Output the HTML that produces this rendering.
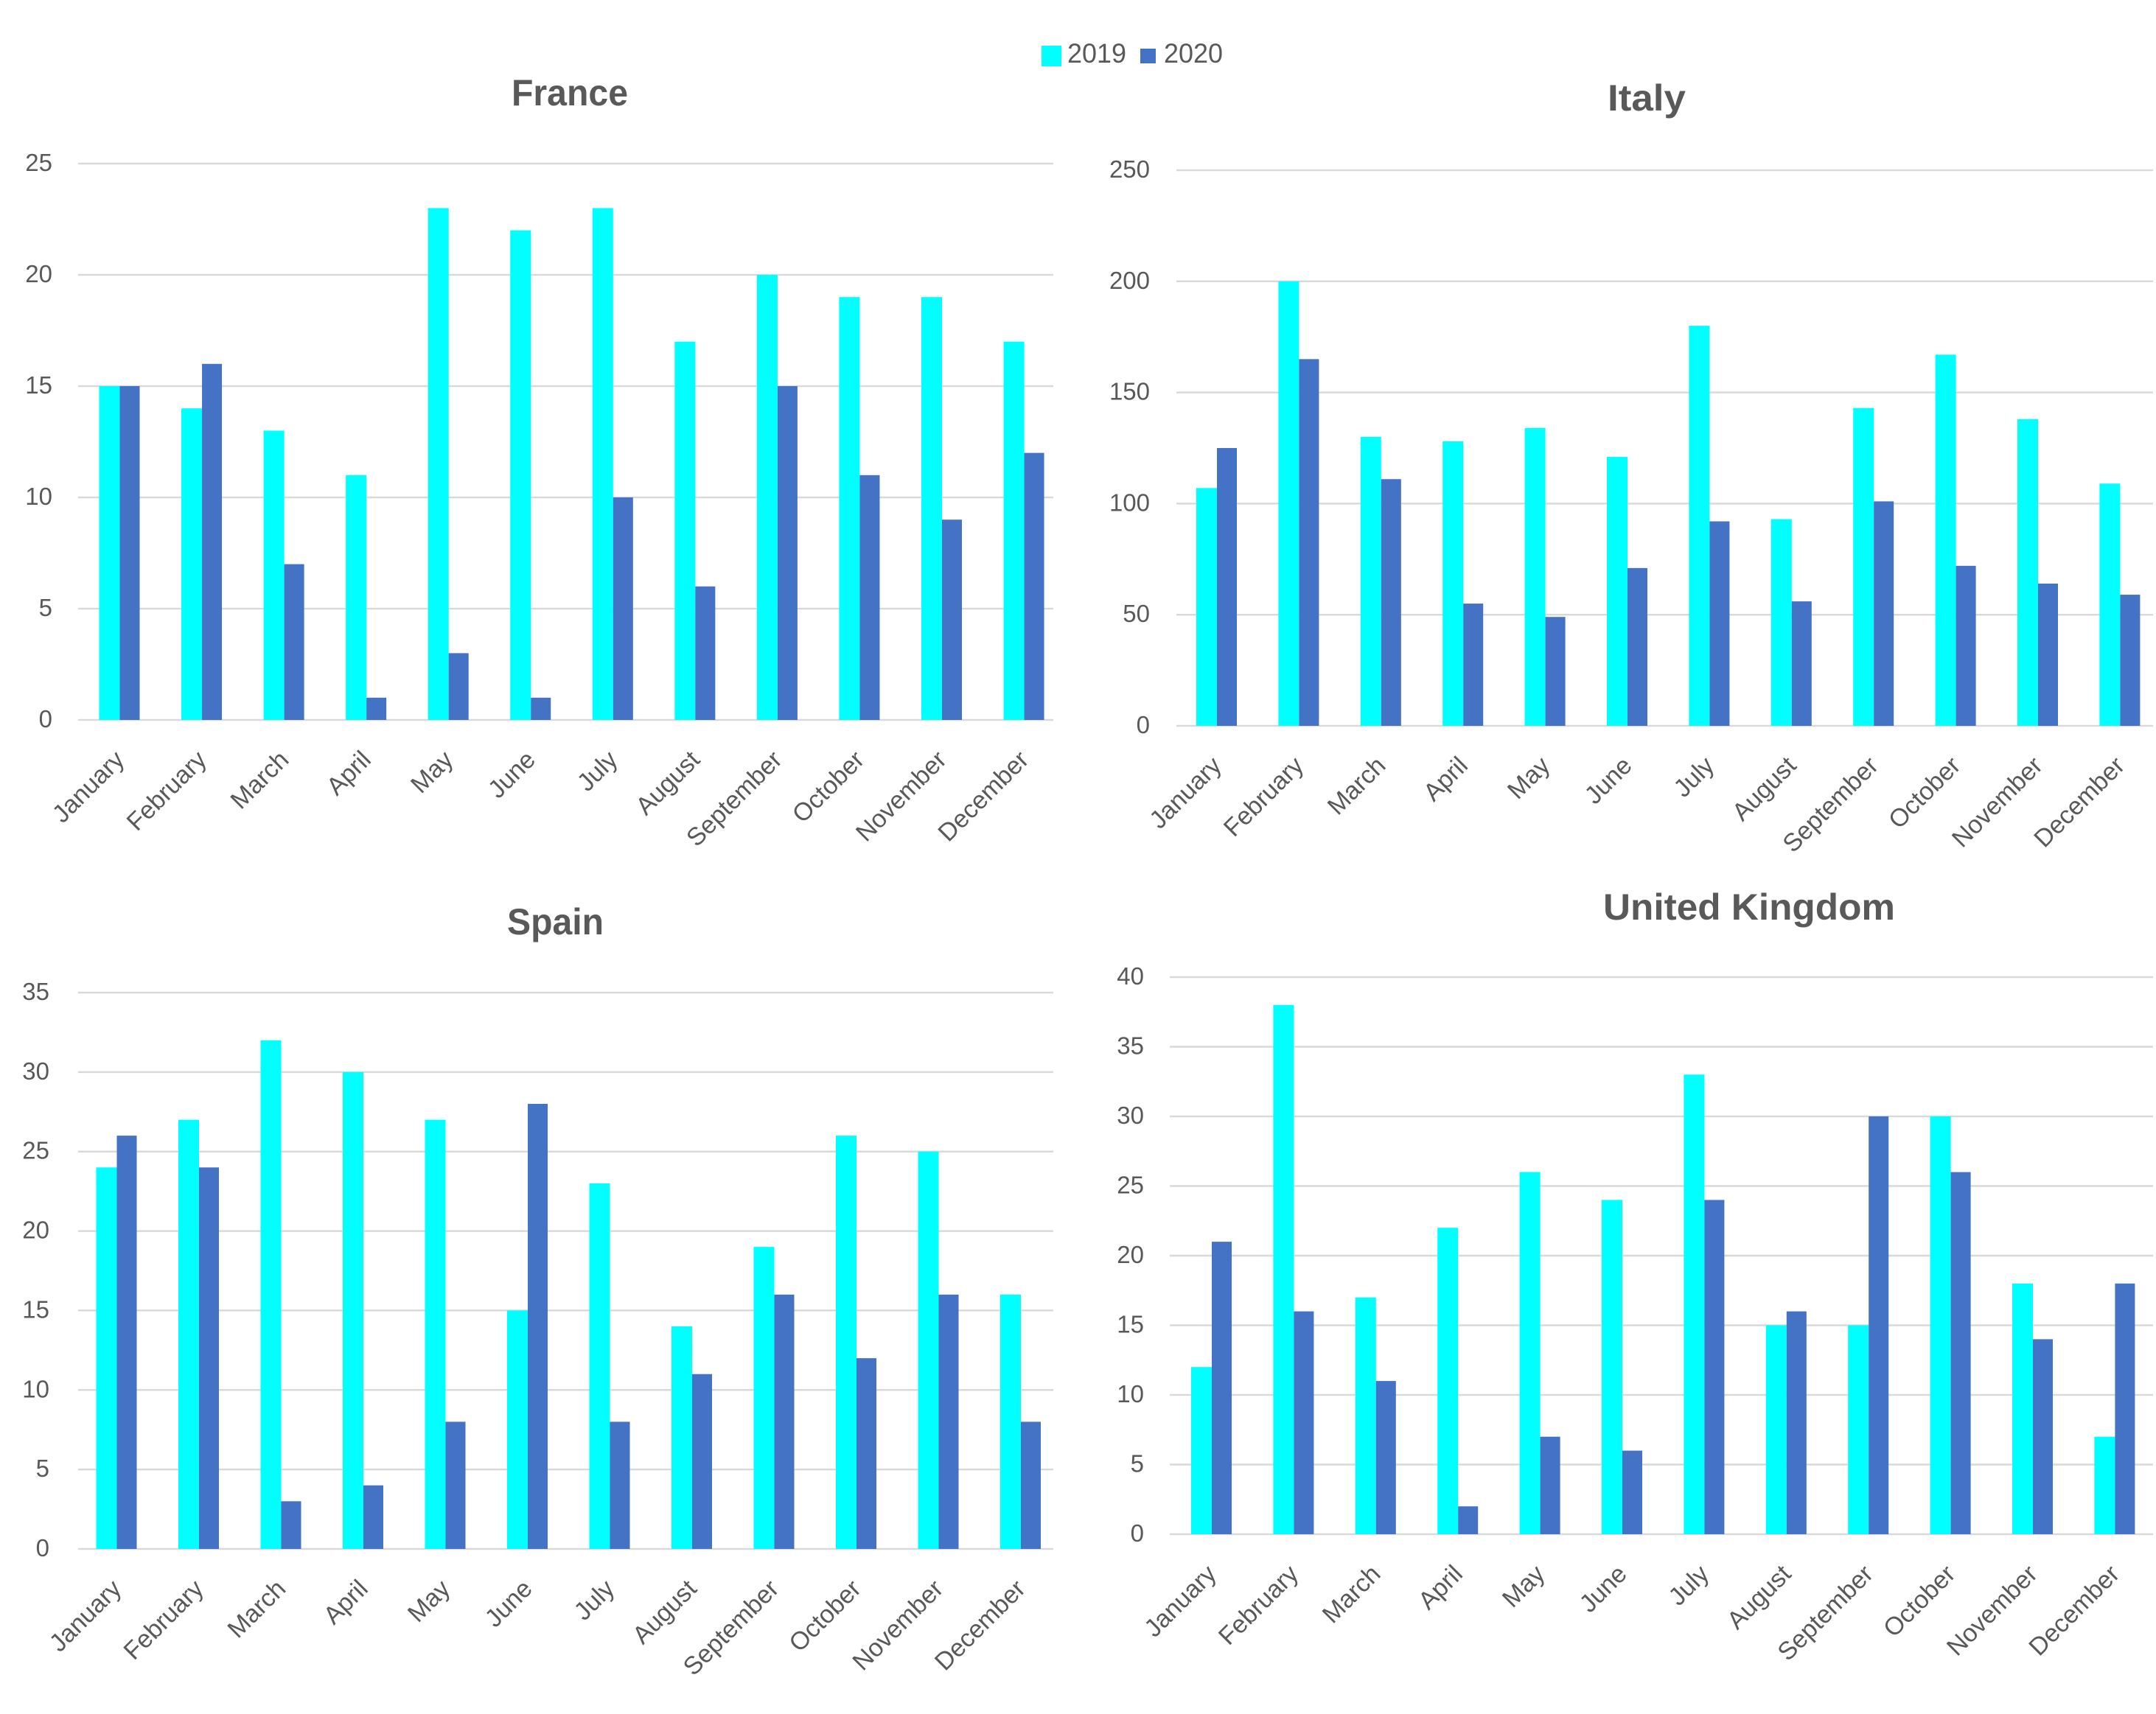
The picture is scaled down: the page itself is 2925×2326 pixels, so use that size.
<!DOCTYPE html>
<html lang="en">
<head>
<meta charset="utf-8">
<title>Monthly values by country, 2019 and 2020</title>
<style>
html,body{margin:0;padding:0;background:#fff;}
svg{display:block;}
text{font-family:"Liberation Sans",sans-serif;fill:#595959;}
</style>
</head>
<body>
<svg id="chart" xmlns="http://www.w3.org/2000/svg" width="2925" height="2326" viewBox="0 0 2925 2326">
  <rect x="0" y="0" width="2925" height="2326" fill="#ffffff"/>
  <g>
    <rect x="1413" y="62" width="27" height="28" fill="#00ffff"/>
    <text x="1448" y="85" font-size="37" textLength="80" lengthAdjust="spacingAndGlyphs">2019</text>
    <rect x="1547" y="66" width="21" height="20" fill="#4472c4"/>
    <text x="1579" y="85" font-size="37" textLength="80" lengthAdjust="spacingAndGlyphs">2020</text>
  </g>
</svg>
<script>
const months = ['January','February','March','April','May','June','July','August','September','October','November','December'];

const franceTicks = [0,5,10,15,20,25];
const france2019 = [15,14,13,11,23,22,23,17,20,19,19,17];
const france2020 = [15,16,7,1,3,1,10,6,15,11,9,12];

const italyTicks = [0,50,100,150,200,250];
const italy2019 = [107,200,130,128,134,121,180,93,143,167,138,109];
const italy2020 = [125,165,111,55,49,71,92,56,101,72,64,59];

const spainTicks = [0,5,10,15,20,25,30,35];
const spain2019 = [24,27,32,30,27,15,23,14,19,26,25,16];
const spain2020 = [26,24,3,4,8,28,8,11,16,12,16,8];

const ukTicks = [0,5,10,15,20,25,30,35,40];
const uk2019 = [12,38,17,22,26,24,33,15,15,30,18,7];
const uk2020 = [21,16,11,2,7,6,24,16,30,26,14,18];

const SVG_NS = 'http://www.w3.org/2000/svg';
const root = document.getElementById('chart');

function make(tag, parent) {
  const el = document.createElementNS(SVG_NS, tag);
  parent.appendChild(el);
  return el;
}

function drawPanel(p) {
  const maxV = p.ticks[p.ticks.length - 1];
  const yOf = v => p.bottom - (v / maxV) * (p.bottom - p.top);
  const xOf = i => p.firstCenter + i * p.pitch;
  const CYAN_W = 28;
  const BLUE_W = 27;

  const g = make('g', root);
  
  

  const title = make('text', g);
  
  
  title.setAttribute('x', p.titleX);
  title.setAttribute('y', p.titleY);
  title.setAttribute('font-size', 50);
  title.setAttribute('font-weight', 'bold');
  title.setAttribute('textLength', p.titleW);
  title.setAttribute('lengthAdjust', 'spacingAndGlyphs');
  title.textContent = p.title;

  p.ticks.forEach(t => {
    const line = make('line', g);
    
    
    line.setAttribute('x1', p.left);
    line.setAttribute('x2', p.right);
    line.setAttribute('y1', yOf(t));
    line.setAttribute('y2', yOf(t));
    line.setAttribute('stroke', '#d9d9d9');
    line.setAttribute('stroke-width', 2.5);

    const label = make('text', g);
    
    
    label.setAttribute('x', p.labelX);
    label.setAttribute('y', yOf(t) + 10);
    label.setAttribute('font-size', 33);
    label.setAttribute('text-anchor', 'end');
    label.textContent = t;
  });

  months.forEach((m, i) => {
    const cx = xOf(i);

    const a = make('rect', g);
    
    
    a.setAttribute('x', cx - CYAN_W);
    a.setAttribute('y', yOf(p.s2019[i]));
    a.setAttribute('width', CYAN_W);
    a.setAttribute('height', p.bottom - yOf(p.s2019[i]));
    a.setAttribute('fill', '#00ffff');

    const b = make('rect', g);
    
    
    b.setAttribute('x', cx);
    b.setAttribute('y', yOf(p.s2020[i]));
    b.setAttribute('width', BLUE_W);
    b.setAttribute('height', p.bottom - yOf(p.s2020[i]));
    b.setAttribute('fill', '#4472c4');

    const lx = cx + 8;
    const ly = p.bottom + 56;
    const lab = make('text', g);
    
    
    lab.setAttribute('x', lx);
    lab.setAttribute('y', ly);
    lab.setAttribute('font-size', 34);
    lab.setAttribute('text-anchor', 'end');
    lab.setAttribute('transform', 'rotate(-45 ' + lx + ' ' + ly + ')');
    lab.textContent = m;
  });
}

drawPanel({key:'france', title:'France', titleX:694, titleY:143, titleW:158, ticks:franceTicks, s2019:france2019, s2020:france2020,
  left:106, right:1429, top:222, bottom:977, firstCenter:162.5, pitch:111.55, labelX:71});
drawPanel({key:'italy', title:'Italy', titleX:2181, titleY:150, titleW:106, ticks:italyTicks, s2019:italy2019, s2020:italy2020,
  left:1596, right:2921, top:231, bottom:985, firstCenter:1651, pitch:111.4, labelX:1560});
drawPanel({key:'spain', title:'Spain', titleX:688, titleY:1268, titleW:131, ticks:spainTicks, s2019:spain2019, s2020:spain2020,
  left:106, right:1429, top:1347, bottom:2102, firstCenter:158.5, pitch:111.5, labelX:67});
drawPanel({key:'united-kingdom', title:'United Kingdom', titleX:2175, titleY:1248, titleW:396, ticks:ukTicks, s2019:uk2019, s2020:uk2020,
  left:1587, right:2921, top:1326, bottom:2082, firstCenter:1644, pitch:111.4, labelX:1552});
</script>
</body>
</html>
